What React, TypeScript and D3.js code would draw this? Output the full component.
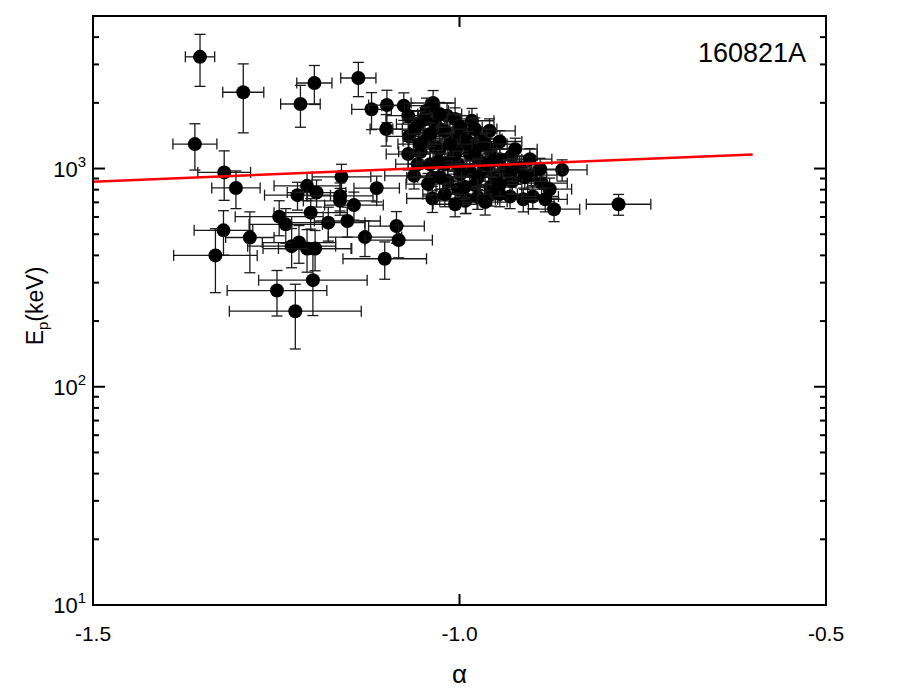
import React from "react";
import * as d3 from "d3";

// ---- data ----
const alpha = [
  -1.354, -1.295, -1.198, -1.217, -1.138, -1.12, -1.099, -1.1, -1.361, -1.321,
  -1.305, -1.322, -1.286, -1.333, -1.249, -1.224, -1.2, -1.208, -1.221, -1.195,
  -1.203, -1.246, -1.237, -1.229, -1.219, -1.208, -1.197, -1.161, -1.163, -1.163,
  -1.144, -1.113, -1.179, -1.153, -1.086, -1.129, -1.083, -1.102, -1.062, -1.037,
  -1.037, -1.076, -1.036, -1.069, -1.07, -1.053, -0.991, -1.017, -0.983, -1.045,
  -1.056, -1.027, -1.07, -0.959, -0.86, -0.902, -0.888, -0.9, -0.871, -0.913,
  -0.931, -0.956, -0.992, -0.929, -0.783,
  -1.027, -1.01, -0.997, -0.986, -0.972, -0.958, -0.945, -0.938, -0.952, -0.965,
  -0.986, -1.002, -1.016, -0.979, -0.958, -0.928, -0.918, -0.924, -0.972, -0.993,
  -1.006, -1.02, -1.033, -1.047, -0.904, -0.975, -1.002, -1.02, -1.006, -0.965,
  -0.945, -1.057, -1.043, -0.945, -1.006, -1.033, -0.89, -0.877, -0.883,
  -1.061, -1.047, -1.027, -0.999, -0.979, -0.965, -0.952, -0.999, -1.02, -1.04,
  -1.054, -1.029, -0.988, -0.961, -0.975, -0.928, -0.911, -0.945, -0.993, -1.027,
  -1.006, -0.979, -1.013, -1.04,
];
const alphaErr = [
  0.02, 0.028, 0.024, 0.027, 0.024, 0.027, 0.025, 0.022, 0.03, 0.036,
  0.033, 0.04, 0.033, 0.057, 0.068, 0.09, 0.074, 0.045, 0.045, 0.04,
  0.05, 0.06, 0.05, 0.06, 0.05, 0.06, 0.05, 0.04, 0.045, 0.05,
  0.04, 0.031, 0.05, 0.045, 0.038, 0.05, 0.046, 0.057, 0.04, 0.035,
  0.035, 0.03, 0.03, 0.03, 0.03, 0.03, 0.04, 0.03, 0.03, 0.03,
  0.03, 0.03, 0.03, 0.035, 0.034, 0.035, 0.035, 0.035, 0.035, 0.035,
  0.035, 0.035, 0.035, 0.035, 0.044,
  0.03, 0.03, 0.03, 0.03, 0.03, 0.03, 0.03, 0.03, 0.03, 0.03,
  0.03, 0.03, 0.03, 0.03, 0.03, 0.03, 0.03, 0.03, 0.03, 0.03,
  0.03, 0.03, 0.03, 0.03, 0.03, 0.03, 0.03, 0.03, 0.03, 0.03,
  0.03, 0.03, 0.03, 0.03, 0.03, 0.03, 0.03, 0.03, 0.03,
  0.03, 0.03, 0.03, 0.03, 0.03, 0.03, 0.03, 0.03, 0.03, 0.03,
  0.03, 0.03, 0.03, 0.03, 0.03, 0.03, 0.03, 0.03, 0.03, 0.03,
  0.03, 0.03, 0.03, 0.03,
];
const ep = [
  3250, 2237, 2466, 1976, 2600, 1868, 1954, 1517, 1294, 960,
  815, 521, 483, 400, 276, 222, 308, 833, 755, 776,
  628, 602, 555, 441, 458, 430, 430, 916, 749, 711,
  680, 813, 565, 575, 545, 485, 470, 386, 926, 910,
  729, 1942, 1997, 1404, 1165, 1193, 723, 1746, 1656, 1842,
  1599, 1517, 1746, 1489, 986, 932, 857, 745, 651, 723,
  745, 763, 711, 1144, 686,
  1227, 1104, 1294, 1164, 1081, 1227, 1104, 972, 912, 994,
  972, 1047, 875, 839, 822, 875, 1015, 1227, 1365, 1439,
  1365, 1486, 1254, 1337, 1104, 740, 804, 763, 686, 702,
  763, 1047, 849, 1330, 1687, 1599, 994, 804, 723,
  1517, 1687, 1778, 1549, 1517, 1294, 1104, 943, 1047, 1047,
  1294, 1081, 1322, 1047, 912, 994, 912, 847, 822, 912,
  1164, 1202, 1294, 1439,
];
const epErr = [
  870, 780, 500, 430, 465, 360, 330, 250, 310, 245,
  160, 120, 150, 130, 65, 73, 96, 120, 110, 110,
  100, 110, 100, 90, 90, 95, 90, 130, 110, 100,
  100, 110, 100, 90, 90, 90, 80, 75, 120, 120,
  100, 280, 280, 220, 180, 180, 100, 250, 230, 260,
  230, 220, 250, 200, 110, 110, 100, 90, 80, 90,
  90, 90, 90, 150, 75,
  150, 130, 160, 140, 130, 150, 130, 120, 110, 120,
  120, 130, 110, 100, 100, 110, 120, 150, 170, 180,
  170, 180, 150, 160, 130, 90, 100, 95, 85, 90,
  95, 130, 100, 160, 210, 200, 120, 100, 90,
  200, 220, 230, 200, 190, 160, 130, 110, 130, 130,
  160, 130, 160, 130, 110, 120, 110, 100, 100, 110,
  140, 150, 160, 180,
];
// linear fit line endpoints
const fitAlpha = [-1.5, -0.6];
const fitEp = [870, 1160];

const xTicks = [-1.5, -1.0, -0.5];
const yMajor = [10, 100, 1000];
const yExp = ["1", "2", "3"];
const label = "160821A";

export default function App() {
  const W = 917, H = 695;
  const x = d3.scaleLinear().domain([-1.5, -0.5]).range([93, 826]);
  const y = d3.scaleLog().domain([10, 5000]).range([605, 16]);
  const [x0, x1] = x.range();
  const [yb, yt] = y.range();

  const minor: number[] = [];
  [10, 100, 1000].forEach((d) => {
    for (let k = 2; k <= 9; k++) {
      const v = d * k;
      if (v <= 5000) minor.push(v);
    }
  });

  const line = d3
    .line<number>()
    .x((_, i) => x(fitAlpha[i]))
    .y((_, i) => y(fitEp[i]));

  const cap = 5.5;
  const font = "Arial, 'Liberation Sans', Helvetica, sans-serif";

  return (
    <svg
      width={W}
      height={H}
      style={{ position: "absolute", left: 0, top: 0, background: "#fff" }}
      fontFamily={font}
    >
      <rect x={0} y={0} width={W} height={H} fill="#fff" />
      {/* points with error bars */}
      {alpha.map((a, i) => {
        const cx = x(a);
        const cy = y(ep[i]);
        const xl = x(a - alphaErr[i]);
        const xr = x(a + alphaErr[i]);
        const yu = y(ep[i] + epErr[i]);
        const yd = y(Math.max(ep[i] - epErr[i], 10));
        return (
          <g key={i} stroke="#1a1a1a" strokeWidth={1.3}>
            <line x1={xl} x2={xr} y1={cy} y2={cy} />
            <line x1={xl} x2={xl} y1={cy - cap} y2={cy + cap} />
            <line x1={xr} x2={xr} y1={cy - cap} y2={cy + cap} />
            <line x1={cx} x2={cx} y1={yu} y2={yd} />
            <line x1={cx - cap} x2={cx + cap} y1={yu} y2={yu} />
            <line x1={cx - cap} x2={cx + cap} y1={yd} y2={yd} />
            <circle cx={cx} cy={cy} r={7} fill="#000" stroke="none" />
          </g>
        );
      })}
      {/* fit line */}
      <path d={line(fitAlpha) || ""} stroke="#ff0000" strokeWidth={2.5} fill="none" />

      {/* frame */}
      <rect x={x0} y={yt} width={x1 - x0} height={yb - yt} fill="none" stroke="#000" strokeWidth={2} />

      {/* y ticks */}
      {yMajor.map((v) => (
        <g key={"ym" + v} stroke="#000" strokeWidth={2}>
          <line x1={x0} x2={x0 + 12} y1={y(v)} y2={y(v)} />
          <line x1={x1} x2={x1 - 12} y1={y(v)} y2={y(v)} />
        </g>
      ))}
      {minor.map((v) => (
        <g key={"yn" + v} stroke="#000" strokeWidth={2}>
          <line x1={x0} x2={x0 + 6} y1={y(v)} y2={y(v)} />
          <line x1={x1} x2={x1 - 6} y1={y(v)} y2={y(v)} />
        </g>
      ))}
      {yMajor.map((v, i) => (
        <text key={"yl" + v} x={86} y={y(v) + 8} textAnchor="end" fontSize={22} fill="#000">
          10
          <tspan fontSize={15} dy={-10}>
            {yExp[i]}
          </tspan>
        </text>
      ))}

      {/* x ticks */}
      {xTicks.map((v) => (
        <g key={"xt" + v} stroke="#000" strokeWidth={2}>
          <line x1={x(v)} x2={x(v)} y1={yb} y2={yb - 11} />
          <line x1={x(v)} x2={x(v)} y1={yt} y2={yt + 11} />
        </g>
      ))}
      {xTicks.map((v) => (
        <text key={"xl" + v} x={x(v)} y={641} textAnchor="middle" fontSize={21} fill="#000">
          {d3.format(".1f")(v).replace("−", "-")}
        </text>
      ))}

      {/* axis titles */}
      <text x={x(-1.0)} y={683} textAnchor="middle" fontSize={26} fill="#000">
        α
      </text>
      <text transform="translate(43, 306) rotate(-90)" textAnchor="middle" fontSize={23} fill="#000">
        E<tspan fontSize={15} dy={5}>p</tspan>
        <tspan dy={-5}>(keV)</tspan>
      </text>

      <text x={806} y={62} textAnchor="end" fontSize={27} fill="#000">
        {label}
      </text>
    </svg>
  );
}
